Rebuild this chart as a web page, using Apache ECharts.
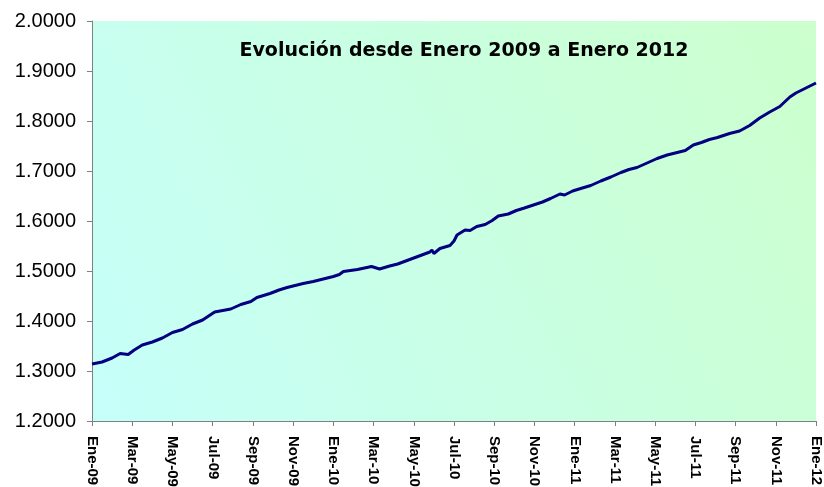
<!DOCTYPE html>
<html>
<head>
<meta charset="utf-8">
<script src="https://cdn.jsdelivr.net/npm/echarts@6/dist/echarts.min.js"></script>
<style>html,body{margin:0;padding:0;background:#fff;}#c{width:824px;height:487px;}</style>
</head>
<body>
<div id="c"></div>
<script>
var tickLabels = ['Ene-09','Mar-09','May-09','Jul-09','Sep-09','Nov-09','Ene-10','Mar-10','May-10','Jul-10','Sep-10','Nov-10','Ene-11','Mar-11','May-11','Jul-11','Sep-11','Nov-11','Ene-12'];
// month offset from Ene-09
var months = [0,0.5,1.0,1.4,1.8,2.1,2.5,3.0,3.5,4.0,4.5,5.0,5.5,6.1,6.5,6.9,7.4,7.9,8.2,8.85,9.3,9.7,10.1,10.5,11.0,11.5,12.0,12.3,12.5,13.2,13.9,14.3,14.8,15.2,15.6,16.0,16.4,16.8,16.9,17.0,17.3,17.8,18.0,18.15,18.55,18.8,19.13,19.55,19.9,20.2,20.7,21.1,21.5,21.95,22.4,22.8,23.27,23.5,23.9,24.3,24.8,25.3,25.8,26.3,26.7,27.1,27.6,28.1,28.6,29.1,29.5,29.9,30.3,30.7,31.1,31.7,32.2,32.7,33.2,33.7,34.2,34.7,35.0,35.4,36.0];
var values = [1.314,1.318,1.326,1.335,1.333,1.342,1.352,1.358,1.366,1.377,1.383,1.394,1.402,1.418,1.421,1.424,1.433,1.439,1.447,1.455,1.462,1.467,1.471,1.475,1.479,1.484,1.489,1.493,1.499,1.503,1.509,1.504,1.510,1.514,1.520,1.526,1.532,1.538,1.542,1.535,1.545,1.551,1.560,1.572,1.582,1.581,1.589,1.593,1.601,1.610,1.614,1.621,1.626,1.632,1.638,1.645,1.654,1.652,1.660,1.665,1.671,1.680,1.688,1.697,1.703,1.707,1.716,1.725,1.732,1.737,1.741,1.752,1.757,1.763,1.767,1.775,1.780,1.791,1.806,1.818,1.829,1.848,1.856,1.864,1.876];
var titleText = 'Evolución desde Enero 2009 a Enero 2012';

var chart = echarts.init(document.getElementById('c'), null, {renderer:'canvas'});
var data = months.map(function(m,i){return [m, values[i]];});
chart.setOption({
  animation: false,
  backgroundColor: '#ffffff',
  title: {
    text: titleText,
    left: 459, top: 37, textAlign: 'center',
    textStyle: {fontFamily: 'DejaVu Sans', fontWeight: 'bold', fontSize: 19, color: '#000'}
  },
  grid: {
    left: 92, right: 8, top: 21, bottom: 66,
    outerBoundsMode: 'none', containLabel: false,
    show: true, borderWidth: 0,
    backgroundColor: new echarts.graphic.LinearGradient(0, 1, 1, 0, [
      {offset: 0, color: '#c6fffa'},
      {offset: 1, color: '#ccffcc'}
    ])
  },
  xAxis: {
    type: 'value', min: 0, max: 36, interval: 2,
    axisLine: {show: true, lineStyle: {color: '#808080', width: 1}},
    axisTick: {show: true, length: 5, lineStyle: {color: '#808080'}},
    splitLine: {show: false},
    axisLabel: {
      rotate: -90, margin: 15, fontFamily: 'Liberation Sans', fontWeight: 'bold', fontSize: 15, color: '#000',
      showMinLabel: true, showMaxLabel: true, hideOverlap: false,
      formatter: function(v){ return tickLabels[Math.round(v/2)] || ''; }
    }
  },
  yAxis: {
    type: 'value', min: 1.2, max: 2.0, interval: 0.1,
    axisLine: {show: true, lineStyle: {color: '#808080', width: 1}},
    axisTick: {show: true, length: 5, lineStyle: {color: '#808080'}},
    splitLine: {show: false},
    axisLabel: {
      margin: 16, fontFamily: 'Liberation Sans', fontSize: 20, color: '#000',
      formatter: function(v){ return v.toFixed(4); }
    }
  },
  series: [{
    type: 'line', data: data, showSymbol: false, smooth: false,
    lineStyle: {color: '#000080', width: 3}
  }]
});
</script>
</body>
</html>
